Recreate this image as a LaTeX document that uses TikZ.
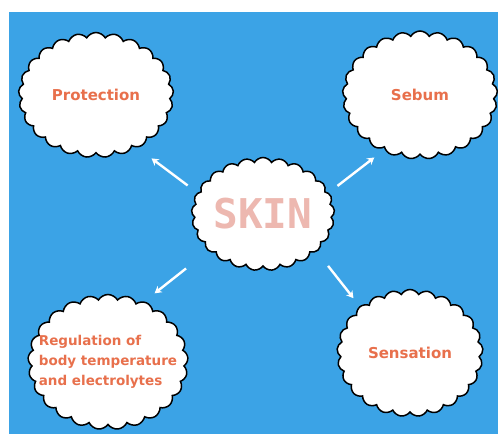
\documentclass[tikz,border=0pt]{standalone}
\usepackage{fontspec}
\setmainfont{DejaVu Sans}[BoldFont={DejaVu Sans Bold}]
\newfontfamily\skinmono{DejaVu Sans Mono}[BoldFont={DejaVu Sans Mono Bold}]
\usetikzlibrary{shapes.symbols,arrows.meta}
\definecolor{skyblue}{HTML}{3BA3E6}
\definecolor{labelred}{HTML}{E8704C}
\definecolor{skinpink}{HTML}{EDB8B0}
\begin{document}
\begin{tikzpicture}[x=1pt, y=-1pt,
  bubble/.style={cloud, cloud puffs=25, cloud puff arc=120, aspect=1.25, draw=black, line width=1.5pt,
    fill=white, text=labelred, inner sep=0pt, align=center,
    font=\bfseries\fontsize{15}{20}\selectfont},
  spoke/.style={draw=white, line width=2.4pt, -{Stealth[length=7pt, width=8pt]}}]
  \fill[white] (0,0) rectangle (498,434);
  \useasboundingbox (0,0) rectangle (498,434);
  \fill[skyblue] (9,12) rectangle (498,434);
  % centre and the four topics
  \node[bubble, minimum width=143pt, minimum height=113pt, inner sep=-12pt, text=skinpink,
        font=\skinmono\bfseries\fontsize{41}{41}\selectfont] (skin) at (263,214) {SKIN};
  \node[bubble, minimum width=155pt, minimum height=125pt] (prot) at (96,95) {Protection};
  \node[bubble, minimum width=155pt, minimum height=128pt] (sebum) at (420,95) {Sebum};
  \node[bubble, minimum width=160pt, minimum height=135pt, inner xsep=-30pt, inner ysep=-22pt,
        align=left, font=\bfseries\fontsize{13.5}{20}\selectfont] (regul) at (108,362)
        {Regulation of\\body temperature\\and electrolytes};
  \node[bubble, minimum width=146pt, minimum height=127pt] (sens) at (410,353) {Sensation};
  % spokes
  \draw[spoke, shorten <=12pt, shorten >=18pt] (skin.162) -- (prot.-52);
  \draw[spoke, shorten <=11pt, shorten >=13pt] (skin.18) -- (sebum.237);
  \draw[spoke, shorten <=28pt, shorten >=13pt] (skin.214) -- (regul.59);
  \draw[spoke, shorten <=18pt, shorten >=10pt] (skin.-35) -- (sens.137);
\end{tikzpicture}
\end{document}
